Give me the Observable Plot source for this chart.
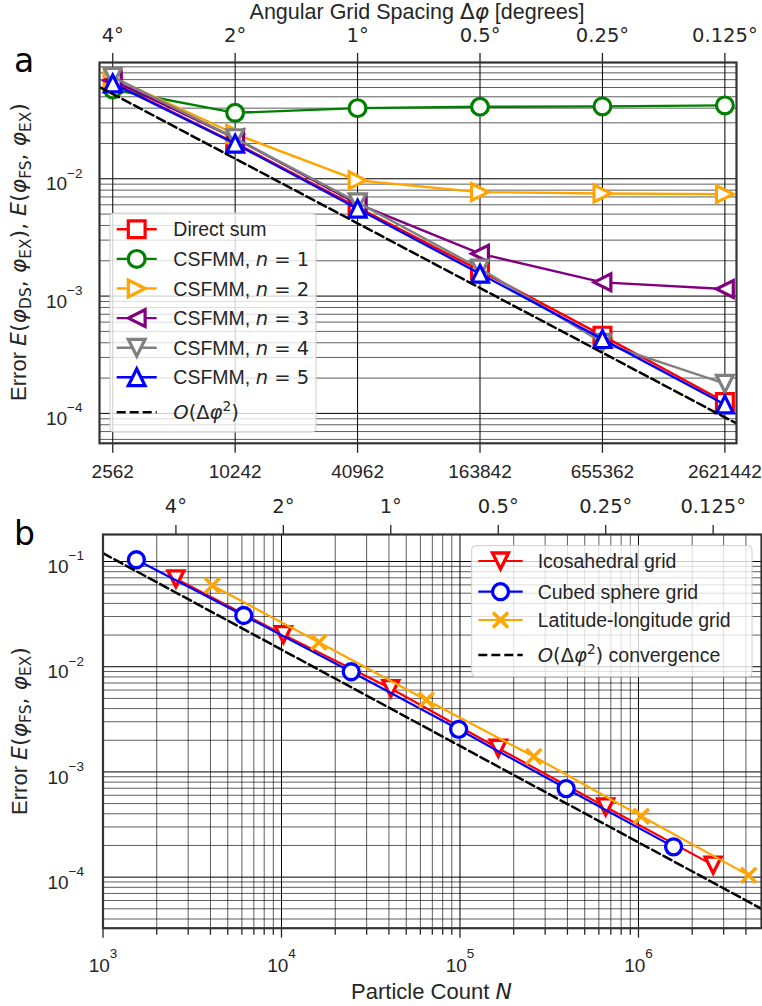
<!DOCTYPE html>
<html><head><meta charset="utf-8">
<script src="https://cdn.jsdelivr.net/npm/d3@7"></script>
<script src="https://cdn.jsdelivr.net/npm/@observablehq/plot@0.6"></script>
<style>
body{margin:0;background:#fff}
#root{position:relative;width:762px;height:1006px;background:#fff;overflow:hidden}
#pa,#pb{position:absolute;left:0}
#pa{top:0}
#pb{top:480px}
</style></head><body>
<div id="root"><div id="pa"></div><div id="pb"></div></div>
<script>
// ---------------- DATA ----------------
// Panel a: particle counts (bottom axis) and angular spacing (top axis)
const particleCounts = [2562, 10242, 40962, 163842, 655362, 2621442];
const degreeLabels = ["4°", "2°", "1°", "0.5°", "0.25°", "0.125°"];
const directSum = [0.066, 0.0202, 0.0057, 0.00165, 0.00046, 0.000125];
const csfmm1 = [0.0577, 0.0365, 0.0400, 0.0411, 0.0414, 0.0422];
const csfmm2 = [0.073, 0.0241, 0.0097, 0.0077, 0.0075, 0.0074];
const csfmm3 = [0.069, 0.0222, 0.0061, 0.0023, 0.00131, 0.00115];
const csfmm4 = [0.074, 0.0222, 0.0063, 0.00172, 0.00040, 0.000179];
const csfmm5 = [0.065, 0.0199, 0.00555, 0.00155, 0.00043, 0.000119];
const refA_N = [2205, 2990000];
const refA_E = [0.0606, 0.000082];
const yTicksA = [1e-4, 1e-3, 1e-2];

// Panel b: grid comparison
const icoN = [2562, 10242, 40962, 163842, 655362, 2621442];
const icoE = [0.0685, 0.0202, 0.0062, 0.00168, 0.000465, 0.00013];
const cubeN = [1538, 6146, 24578, 98306, 393218, 1572866];
const cubeE = [0.104, 0.0307, 0.00896, 0.00254, 0.000695, 0.000194];
const latlonN = [4100, 16200, 64800, 259200, 1036800, 4147200];
const latlonE = [0.0591, 0.0171, 0.00482, 0.0014, 0.000379, 0.000104];
const refB_N = [1000, 4890000];
const refB_E = [0.12, 0.00005];
const xTicksB = [1e3, 1e4, 1e5, 1e6];
const yTicksB = [1e-4, 1e-3, 1e-2, 1e-1];

// ---------------- HELPERS ----------------
const NS = "http://www.w3.org/2000/svg";
const SANS = "Liberation Sans, Arial, sans-serif";
const MATH = "DejaVu Sans, sans-serif";
const TXT = "#262626";

const poly = pts => ({draw(ctx, size) {
  const r = Math.sqrt(size / Math.PI);
  ctx.moveTo(pts[0][0] * r, pts[0][1] * r);
  for (let k = 1; k < pts.length; k++) ctx.lineTo(pts[k][0] * r, pts[k][1] * r);
  ctx.closePath();
}});
const symSquare = poly([[-1,-1],[1,-1],[1,1],[-1,1]]);
const symUp = poly([[0,-1],[-1,1],[1,1]]);
const symDown = poly([[0,1],[-1,-1],[1,-1]]);
const symLeft = poly([[-1,0],[1,-1],[1,1]]);
const symRight = poly([[1,0],[-1,-1],[-1,1]]);
const symCircle = {draw(ctx, size) { const r = Math.sqrt(size / Math.PI); ctx.moveTo(r, 0); ctx.arc(0, 0, r, 0, 2 * Math.PI); }};
const symX = {draw(ctx, size) { const r = Math.sqrt(size / Math.PI); ctx.moveTo(-r,-r); ctx.lineTo(r,r); ctx.moveTo(-r,r); ctx.lineTo(r,-r); }};

const rows = (xs, ys) => xs.map((x, i) => ({N: x, E: ys[i]}));
function minorTicks(lo, hi) {
  const out = [];
  for (let e = Math.floor(Math.log10(lo)); e <= Math.ceil(Math.log10(hi)); e++)
    for (let m = 2; m <= 9; m++) { const v = m * Math.pow(10, e); if (v > lo && v < hi) out.push(v); }
  return out;
}
const pow10Fmt = d => "10^" + Math.round(Math.log10(d));

// rich text: parts = [[text, kind]], kind: r (sans), m (math upright), i (math italic), sub, sup
function rich(textSel, parts, size) {
  let cur = 0;
  textSel.attr("font-size", size + "px");
  for (const [t, kind] of parts) {
    const target = kind === "sub" ? 0.22 * size : kind === "sup" ? -0.42 * size : 0;
    const ts = textSel.append("tspan").text(t);
    if (target !== cur) ts.attr("dy", target - cur);
    cur = target;
    ts.attr("font-family", kind === "r" ? SANS : MATH);
    if (kind === "i") ts.attr("font-style", "italic");
    if (kind === "sub" || kind === "sup") ts.attr("font-size", (0.7 * size) + "px");
  }
  return textSel;
}
function superscriptLabels(svg, baseShift, supShift) {
  svg.querySelectorAll("text").forEach(t => {
    const m = /^10\^(-?\d+)$/.exec(t.textContent);
    if (!m) return;
    for (const a of ["y", "dy"]) { const v = t.getAttribute(a); if (v && /em$/.test(v)) t.removeAttribute(a); }
    t.textContent = "";
    const a = document.createElementNS(NS, "tspan"); a.textContent = "10"; a.setAttribute("dy", baseShift);
    const b = document.createElementNS(NS, "tspan"); b.textContent = m[1].replace("-", "\u2212");
    b.setAttribute("dy", supShift); b.setAttribute("font-size", "13.5px");
    t.append(a, b);
  });
}
function legend(svg, box, entries, layout) {
  const g = d3.select(svg).append("g").attr("text-anchor", "start");
  g.append("rect").attr("x", box[0]).attr("y", box[1]).attr("width", box[2]).attr("height", box[3])
    .attr("rx", 4).attr("fill", "white").attr("fill-opacity", 0.8).attr("stroke", "#cccccc").attr("stroke-width", 1);
  entries.forEach((e, i) => {
    const y = layout.ys[i];
    const line = g.append("line").attr("x1", layout.x0).attr("x2", layout.x1).attr("y1", y).attr("y2", y)
      .attr("stroke", e.color).attr("stroke-width", e.lw);
    if (e.dash) line.attr("stroke-dasharray", e.dash);
    if (e.sym) {
      const size = Math.PI * e.r * e.r;
      g.append("path").attr("d", d3.symbol(e.sym, size)()).attr("transform", `translate(${(layout.x0 + layout.x1) / 2},${y})`)
        .attr("fill", e.sym === symX ? "none" : "white").attr("stroke", e.color).attr("stroke-width", e.sw);
    }
    const t = g.append("text").attr("x", layout.tx).attr("y", y + 7).attr("fill", TXT).attr("text-anchor", "start");
    rich(t, e.label, 19.5);
  });
}

// ---------------- PANEL A ----------------
const seriesA = [
  {vals: directSum, color: "red", sym: symSquare, label: [["Direct sum", "r"]]},
  {vals: csfmm1, color: "green", sym: symCircle, label: [["CSFMM, ", "r"], ["n", "i"], [" = 1", "m"]]},
  {vals: csfmm2, color: "orange", sym: symRight, label: [["CSFMM, ", "r"], ["n", "i"], [" = 2", "m"]]},
  {vals: csfmm3, color: "purple", sym: symLeft, label: [["CSFMM, ", "r"], ["n", "i"], [" = 3", "m"]]},
  {vals: csfmm4, color: "gray", sym: symDown, label: [["CSFMM, ", "r"], ["n", "i"], [" = 4", "m"]]},
  {vals: csfmm5, color: "blue", sym: symUp, label: [["CSFMM, ", "r"], ["n", "i"], [" = 5", "m"]]}
];
const yDomA = [5.56e-5, 0.098];
const xDomA = [2205, 2990000];
const marksA = [
  Plot.gridY(minorTicks(yDomA[0], yDomA[1]), {stroke: "#000", strokeOpacity: 0.8, strokeWidth: 0.8}),
  Plot.gridY(yTicksA, {stroke: "#000", strokeOpacity: 1, strokeWidth: 1}),
  Plot.gridX(particleCounts, {stroke: "#000", strokeOpacity: 1, strokeWidth: 1})
];
for (const s of seriesA) {
  const data = rows(particleCounts, s.vals);
  marksA.push(Plot.line(data, {x: "N", y: "E", stroke: s.color, strokeWidth: 2.4}));
  marksA.push(Plot.dot(data, {x: "N", y: "E", symbol: s.sym, r: 8.4, stroke: s.color, strokeWidth: 3.2, fill: "white"}));
}
marksA.push(
  Plot.line(rows(refA_N, refA_E), {x: "N", y: "E", stroke: "black", strokeWidth: 2.5, strokeDasharray: "9,4", clip: true}),
  Plot.axisX(particleCounts, {anchor: "bottom", tickSize: 10, tickPadding: 11, strokeWidth: 1.3, text: d => String(d), label: null}),
  Plot.axisX(particleCounts, {anchor: "top", tickSize: 10, tickPadding: 11, strokeWidth: 1.3, fontFamily: MATH, fontSize: 19.5, text: d => degreeLabels[particleCounts.indexOf(d)], label: null}),
  Plot.axisY(yTicksA, {anchor: "left", tickSize: 0, tickPadding: 17, tickFormat: pow10Fmt, label: null}),
  Plot.frame({stroke: "#333", strokeWidth: 2.2})
);
const plotA = Plot.plot({
  width: 762, height: 480,
  marginLeft: 99, marginRight: 26, marginTop: 62, marginBottom: 37.2,
  x: {type: "log", domain: xDomA},
  y: {type: "log", domain: yDomA},
  style: {fontFamily: SANS, fontSize: "19px", color: TXT, background: "white", overflow: "visible"},
  marks: marksA
});
document.getElementById("pa").append(plotA);
superscriptLabels(plotA, 11.6, -12.8);
{
  const s = d3.select(plotA);
  rich(s.append("text").attr("x", 417).attr("y", 19).attr("text-anchor", "middle").attr("fill", TXT),
    [["Angular Grid Spacing ", "r"], ["Δ", "m"], ["φ", "i"], [" [degrees]", "r"]], 21.5);
  rich(s.append("text").attr("transform", "translate(26,252) rotate(-90)").attr("text-anchor", "middle").attr("fill", TXT),
    [["Error ", "r"], ["E", "i"], ["(", "m"], ["φ", "i"], ["DS", "sub"], [", ", "m"], ["φ", "i"], ["EX", "sub"], ["), ", "m"],
     ["E", "i"], ["(", "m"], ["φ", "i"], ["FS", "sub"], [", ", "m"], ["φ", "i"], ["EX", "sub"], [")", "m"]], 22);
  s.append("text").attr("x", 14).attr("y", 72).attr("text-anchor", "start").attr("font-family", MATH).attr("font-size", "33px").attr("fill", "#000").text("a");
  const entries = seriesA.map(e => ({color: e.color, lw: 2.4, sym: e.sym, r: 8.4, sw: 3.2, label: e.label}));
  entries.push({color: "black", lw: 2.5, dash: "9,4", label: [["O", "i"], ["(Δ", "m"], ["φ", "i"], ["2", "sup"], [")", "m"]]});
  legend(plotA, [110, 213, 206, 219], entries, {x0: 116.7, x1: 156.7, tx: 173.3, ys: [229.3, 258.9, 288.5, 318.1, 347.7, 377.3, 412.3]});
}

// ---------------- PANEL B ----------------
const xDomB = [1000, 4890000];
const yDomB = [3.27e-5, 0.1807];
const seriesB = [
  {xs: icoN, vals: icoE, color: "red", sym: symDown, label: [["Icosahedral grid", "r"]]},
  {xs: cubeN, vals: cubeE, color: "blue", sym: symCircle, label: [["Cubed sphere grid", "r"]]},
  {xs: latlonN, vals: latlonE, color: "orange", sym: symX, label: [["Latitude-longitude grid", "r"]]}
];
const minorXB = minorTicks(xDomB[0], xDomB[1]);
const marksB = [
  Plot.gridY(minorTicks(yDomB[0], yDomB[1]), {stroke: "#000", strokeOpacity: 0.8, strokeWidth: 0.8}),
  Plot.gridX(minorXB, {stroke: "#000", strokeOpacity: 0.8, strokeWidth: 0.8}),
  Plot.gridY(yTicksB, {stroke: "#000", strokeOpacity: 1, strokeWidth: 1}),
  Plot.gridX(xTicksB, {stroke: "#000", strokeOpacity: 1, strokeWidth: 1})
];
for (const s of seriesB) {
  const data = rows(s.xs, s.vals);
  const isX = s.sym === symX;
  marksB.push(Plot.line(data, {x: "N", y: "E", stroke: s.color, strokeWidth: 2.2}));
  marksB.push(Plot.dot(data, {x: "N", y: "E", symbol: s.sym, r: isX ? 7.5 : 8, stroke: s.color, strokeWidth: isX ? 3.6 : 3.3, fill: isX ? "none" : "white"}));
}
marksB.push(
  Plot.line(rows(refB_N, refB_E), {x: "N", y: "E", stroke: "black", strokeWidth: 2.5, strokeDasharray: "9,4", clip: true}),
  Plot.axisX(minorXB, {anchor: "bottom", tickSize: 7, strokeWidth: 1.3, text: () => "", label: null}),
  Plot.axisX(xTicksB, {anchor: "bottom", tickSize: 10, tickPadding: 4, strokeWidth: 1.3, tickFormat: pow10Fmt, label: null}),
  Plot.axisX(icoN, {anchor: "top", tickSize: 10, tickPadding: 12, strokeWidth: 1.3, fontFamily: MATH, fontSize: 19.5, text: d => degreeLabels[icoN.indexOf(d)], label: null}),
  Plot.axisY(yTicksB, {anchor: "left", tickSize: 0, tickPadding: 19, tickFormat: pow10Fmt, label: null}),
  Plot.frame({stroke: "#333", strokeWidth: 2.2})
);
const plotB = Plot.plot({
  width: 762, height: 526,
  marginLeft: 102.5, marginRight: 1, marginTop: 54, marginBottom: 78.3,
  x: {type: "log", domain: xDomB},
  y: {type: "log", domain: yDomB},
  style: {fontFamily: SANS, fontSize: "19px", color: TXT, background: "white", overflow: "visible"},
  marks: marksB
});
document.getElementById("pb").append(plotB);
superscriptLabels(plotB, 11.6, -12.8);
// bottom x tick labels of panel b sit lower
plotB.querySelectorAll("text").forEach(t => {
  if (t.firstChild && t.firstChild.nodeName === "tspan" && t.firstChild.textContent === "10" && t.getAttribute("text-anchor") !== "end" && !(t.parentNode.getAttribute("text-anchor") === "end")) {
    t.firstChild.setAttribute("dy", 30);
    t.lastChild.setAttribute("dy", -14);
  }
});
{
  const s = d3.select(plotB);
  rich(s.append("text").attr("x", 431.5).attr("y", 519).attr("text-anchor", "middle").attr("fill", TXT),
    [["Particle Count ", "r"], ["N", "i"]], 22);
  rich(s.append("text").attr("transform", "translate(26.5,251) rotate(-90)").attr("text-anchor", "middle").attr("fill", TXT),
    [["Error ", "r"], ["E", "i"], ["(", "m"], ["φ", "i"], ["FS", "sub"], [", ", "m"], ["φ", "i"], ["EX", "sub"], [")", "m"]], 22);
  s.append("text").attr("x", 14).attr("y", 65).attr("text-anchor", "start").attr("font-family", MATH).attr("font-size", "33px").attr("fill", "#000").text("b");
  const entries = seriesB.map(e => ({color: e.color, lw: 2.2, sym: e.sym, r: e.sym === symX ? 7.5 : 8, sw: e.sym === symX ? 3.6 : 3.3, label: e.label}));
  entries.push({color: "black", lw: 2.5, dash: "9,4", label: [["O", "i"], ["(Δ", "m"], ["φ", "i"], ["2", "sup"], [")", "m"], [" convergence", "r"]]});
  legend(plotB, [471.7, 65.7, 280.3, 131], entries, {x0: 478.3, x1: 522.7, tx: 537.7, ys: [81, 111.7, 140, 175]});
}
</script></body></html>
